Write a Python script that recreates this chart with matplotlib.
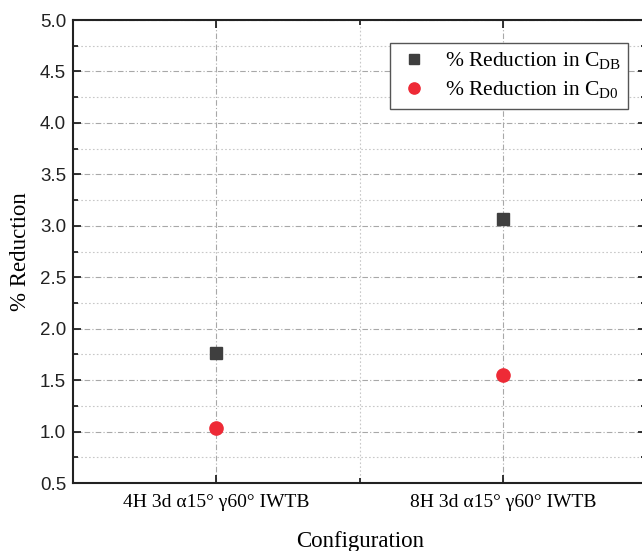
import numpy as np
import matplotlib.pyplot as plt
from matplotlib.ticker import MultipleLocator, FixedLocator

configs = ["4H 3d α15° γ60° IWTB", "8H 3d α15° γ60° IWTB"]
red_cdb = [1.76, 3.07]
red_cd0 = [1.03, 1.55]

serif = ["Liberation Serif", "DejaVu Serif"]
sans = ["Liberation Sans", "DejaVu Sans"]

fig = plt.figure(figsize=(6.42, 5.51), dpi=100)
ax = fig.add_axes([0.1137, 0.1234, 0.8933, 0.8403])

x = np.arange(1, len(configs) + 1)
ax.plot(x, red_cdb, ls="none", marker="s", ms=8.5, color="#3f3f3f",
        label=r"% Reduction in C$_{\mathregular{DB}}$", zorder=3)
ax.plot(x, red_cd0, ls="none", marker="o", ms=9.5, color="#ee2a36",
        label=r"% Reduction in C$_{\mathregular{D0}}$", zorder=3)

ax.set_xlim(0.5, 2.5)
ax.set_ylim(0.5, 5.0)
ax.xaxis.set_major_locator(FixedLocator(x))
ax.xaxis.set_minor_locator(FixedLocator([1.5]))
ax.yaxis.set_major_locator(MultipleLocator(0.5))
ax.yaxis.set_minor_locator(MultipleLocator(0.25))
ax.set_xticklabels(configs, family=serif, fontsize=14)
ax.yaxis.set_major_formatter(plt.FormatStrFormatter("%.1f"))
for lab in ax.get_yticklabels():
    lab.set_family(sans)
    lab.set_fontsize(13.5)
    lab.set_color("#222222")

ax.tick_params(which="both", direction="in", top=True, right=True,
               width=1.3, color="#222222")
ax.tick_params(which="major", length=6, pad=5)
ax.tick_params(which="minor", length=3.5)
ax.tick_params(axis="x", which="major", pad=8)

ax.grid(which="major", ls=(0, (5, 2, 1, 2)), lw=0.8, color="#a8a8a8")
ax.grid(which="minor", ls=(0, (1.5, 2)), lw=0.8, color="#c8c8c8")
ax.set_axisbelow(True)

for sp in ax.spines.values():
    sp.set_linewidth(1.5)
    sp.set_color("#222222")

ax.set_xlabel("Configuration", family=serif, fontsize=16.5, labelpad=14)
ax.set_ylabel("% Reduction", family=serif, fontsize=16.5, labelpad=6)

leg = ax.legend(loc="upper right", bbox_to_anchor=(0.987, 0.974),
                prop={"family": serif, "size": 15.5}, fancybox=False,
                edgecolor="#555555", framealpha=1, handletextpad=0.7,
                borderpad=0.35, labelspacing=0.35, handlelength=1.5,
                markerscale=0.85)
leg.get_frame().set_linewidth(1.0)

fig.savefig("out.png", dpi=100)
